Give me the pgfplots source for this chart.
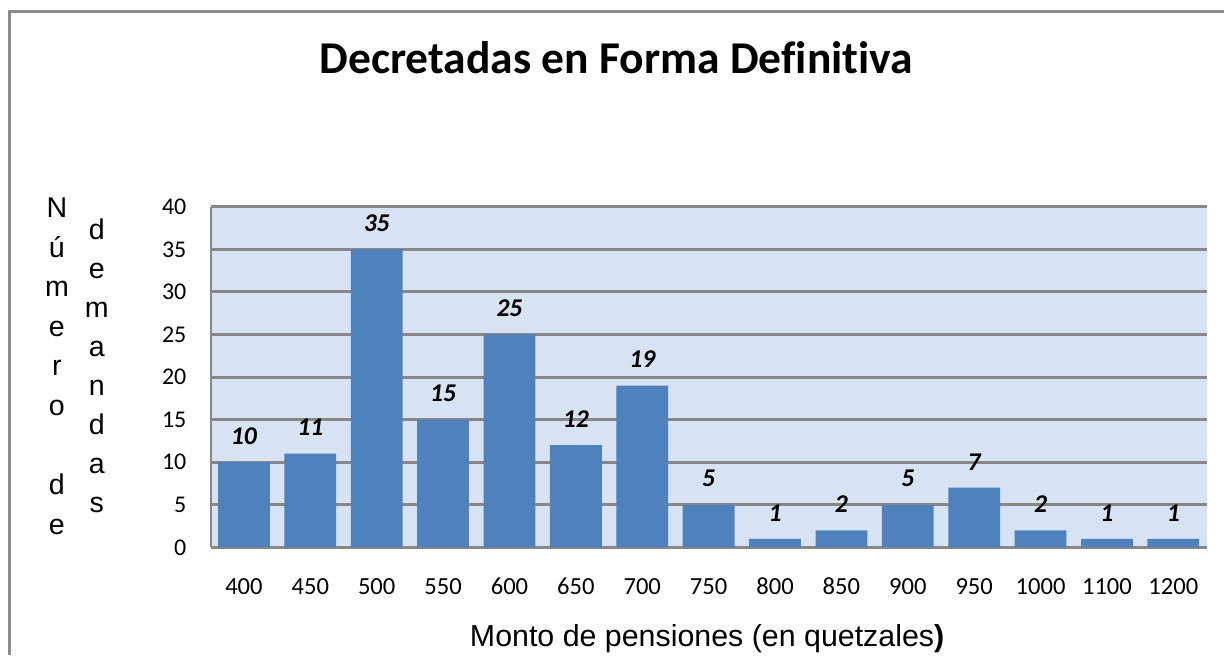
\documentclass[border=0pt]{standalone}
\usepackage{pgfplots}
\pgfplotsset{compat=1.18}
\usepackage{fontspec}
\setmainfont{Carlito}
\newfontfamily\arial{Liberation Sans}
\newfontfamily\titlefont[Ligatures=NoCommon]{Carlito}
\definecolor{barblue}{HTML}{4F81BD}
\definecolor{plotbg}{HTML}{D7E3F3}
\definecolor{gridgray}{HTML}{878787}
\definecolor{framegray}{HTML}{8C8C8C}
\begin{document}
\begin{tikzpicture}[x=0.5pt,y=0.5pt]
\path (0,0) rectangle (1225,656);
\draw[framegray, line width=1.5pt] (10,0) -- (10,644.5) -- (1225,644.5);
\node[anchor=base, inner sep=0pt, font=\titlefont\bfseries\fontsize{22.8}{26}\selectfont] at (617,582) {Decretadas en Forma Def{}init{}iva};
\foreach \c/\k in {N/0,ú/1,m/2,e/3,r/4,o/5,d/7,e/8}
  \node[anchor=base, inner sep=0pt, font=\arial\fontsize{14.3}{16}\selectfont] at (57, {656-218-39.6*\k}) {\c};
\foreach \c/\k in {d/0,e/1,m/2,a/3,n/4,d/5,a/6,s/7}
  \node[anchor=base, inner sep=0pt, font=\arial\fontsize{14.3}{16}\selectfont] at (97, {656-240-39*\k}) {\c};
\node[anchor=base, inner sep=0pt, font=\arial\fontsize{15.2}{17}\selectfont] at (708,9) {Monto de pensiones (en quetzales\textbf{)}};
\begin{axis}[
  at={(105.5pt,54pt)}, anchor=south west,
  scale only axis, width=498.5pt, height=170.5pt,
  xmin=-0.5, xmax=14.5, ymin=0, ymax=40,
  ytick={0,5,...,40}, xtick={0,...,14},
  xticklabels={400,450,500,550,600,650,700,750,800,850,900,950,1000,1100,1200},
  /pgf/number format/assume math mode=true,
  axis background/.style={fill=plotbg},
  ymajorgrids, grid style={gridgray, line width=1.5pt},
  axis x line*=bottom, axis y line*=left,
  axis line style={-, gridgray, line width=0.8pt},
  major tick length=0pt, tick style={draw=none},
  xticklabel style={font=\fontsize{12.3}{14}\selectfont, anchor=base, inner sep=0pt, yshift=-23.5pt},
  yticklabel style={font=\fontsize{12}{14}\selectfont, anchor=east, inner sep=0pt, xshift=-12pt},
]
\addplot[ybar, bar width=0.78, fill=barblue, draw=none,
  nodes near coords,
  every node near coord/.append style={font=\bfseries\itshape\fontsize{12.8}{15}\selectfont, anchor=center, yshift=13pt, text=black}]
  coordinates {(0,10) (1,11) (2,35) (3,15) (4,25) (5,12) (6,19) (7,5) (8,1) (9,2) (10,5) (11,7) (12,2) (13,1) (14,1)};
\end{axis}
\end{tikzpicture}
\end{document}
